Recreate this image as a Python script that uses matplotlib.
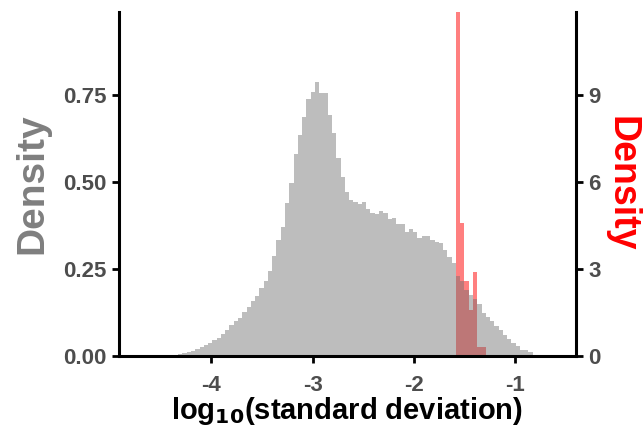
import numpy as np
import matplotlib
matplotlib.use("Agg")
import matplotlib.pyplot as plt

plt.rcParams['font.family'] = ['Liberation Sans', 'DejaVu Sans']
plt.rcParams['font.weight'] = 'bold'
plt.rcParams['mathtext.default'] = 'bf'

# shared histogram bins (log10 scale)
bin_start = -1.584
bin_width = 0.0422

# all genes: density per bin, bins -67 .. 18 relative to bin_start
gray_first_bin = -67
gray_density = [
    0.001, 0.003, 0.005, 0.008, 0.011, 0.015, 0.020, 0.026, 0.031, 0.037,
    0.045, 0.052, 0.062, 0.075, 0.089, 0.099, 0.110, 0.125, 0.141, 0.158,
    0.172, 0.194, 0.215, 0.243, 0.287, 0.332, 0.371, 0.438, 0.498, 0.579,
    0.636, 0.686, 0.738, 0.758, 0.786, 0.757, 0.757, 0.692, 0.640, 0.568,
    0.513, 0.472, 0.448, 0.443, 0.437, 0.441, 0.421, 0.412, 0.408, 0.417,
    0.410, 0.393, 0.396, 0.379, 0.379, 0.357, 0.365, 0.357, 0.338, 0.345,
    0.345, 0.333, 0.328, 0.324, 0.305, 0.284, 0.268, 0.230, 0.216, 0.190,
    0.175, 0.163, 0.149, 0.124, 0.111, 0.099, 0.086, 0.073, 0.060, 0.048,
    0.038, 0.029, 0.017, 0.016, 0.010, 0.003,
]

# selected set: density per bin, bins 0 .. 6
red_first_bin = 0
red_density = [12.5, 4.6, 2.6, 1.6, 2.91, 0.29, 0.29]

xticks = [-4, -3, -2, -1]
left_ticks = [0.0, 0.25, 0.5, 0.75]
right_ticks = [0, 3, 6, 9]

gray_edges = bin_start + bin_width * np.arange(gray_first_bin, gray_first_bin + len(gray_density) + 1)
red_edges = bin_start + bin_width * np.arange(red_first_bin, red_first_bin + len(red_density) + 1)

fig = plt.figure(figsize=(6.44, 4.34), dpi=100)
ax = fig.add_axes([0.185, 0.18, 0.709, 0.792])
ax2 = ax.twinx()

ax2.stairs(red_density, red_edges, fill=True, color='red', alpha=0.5, linewidth=0)
ax.stairs(gray_density, gray_edges, fill=True, color='#6e6e6e', alpha=0.45, linewidth=0)

# gray layer on top of the red one
ax.set_zorder(ax2.get_zorder() + 1)
ax.patch.set_visible(False)

ax.set_xlim(-4.91, -0.40)
ax.set_ylim(0, 0.988)
ax2.set_ylim(0, 11.86)

tick_color = '#4D4D4D'
for a in (ax, ax2):
    for s in a.spines.values():
        s.set_linewidth(2.2)
        s.set_color('black')
    a.spines['top'].set_visible(False)
    a.tick_params(width=2, length=5, color='black', labelcolor=tick_color,
                  labelsize=16, pad=4)
ax.tick_params(axis='x', pad=9)
ax.spines['right'].set_visible(False)
ax2.spines['left'].set_visible(False)
ax2.spines['bottom'].set_visible(False)

ax.set_xticks(xticks)
ax.set_xticklabels([str(t) for t in xticks])
ax.set_yticks(left_ticks)
ax.set_yticklabels(['%.2f' % t for t in left_ticks])
ax2.set_yticks(right_ticks)
ax2.set_yticklabels([str(t) for t in right_ticks])

ax.set_xlabel(r'log$_{\mathbf{10}}$(standard deviation)', fontsize=21, fontweight='bold', labelpad=-1)
ax.set_ylabel('Density', fontsize=28, fontweight='bold', color='#7F7F7F', labelpad=9)
ax2.set_ylabel('Density', fontsize=27, fontweight='bold', color='red', rotation=270,
               labelpad=2, va='bottom')

fig.savefig('out.png', dpi=100)
